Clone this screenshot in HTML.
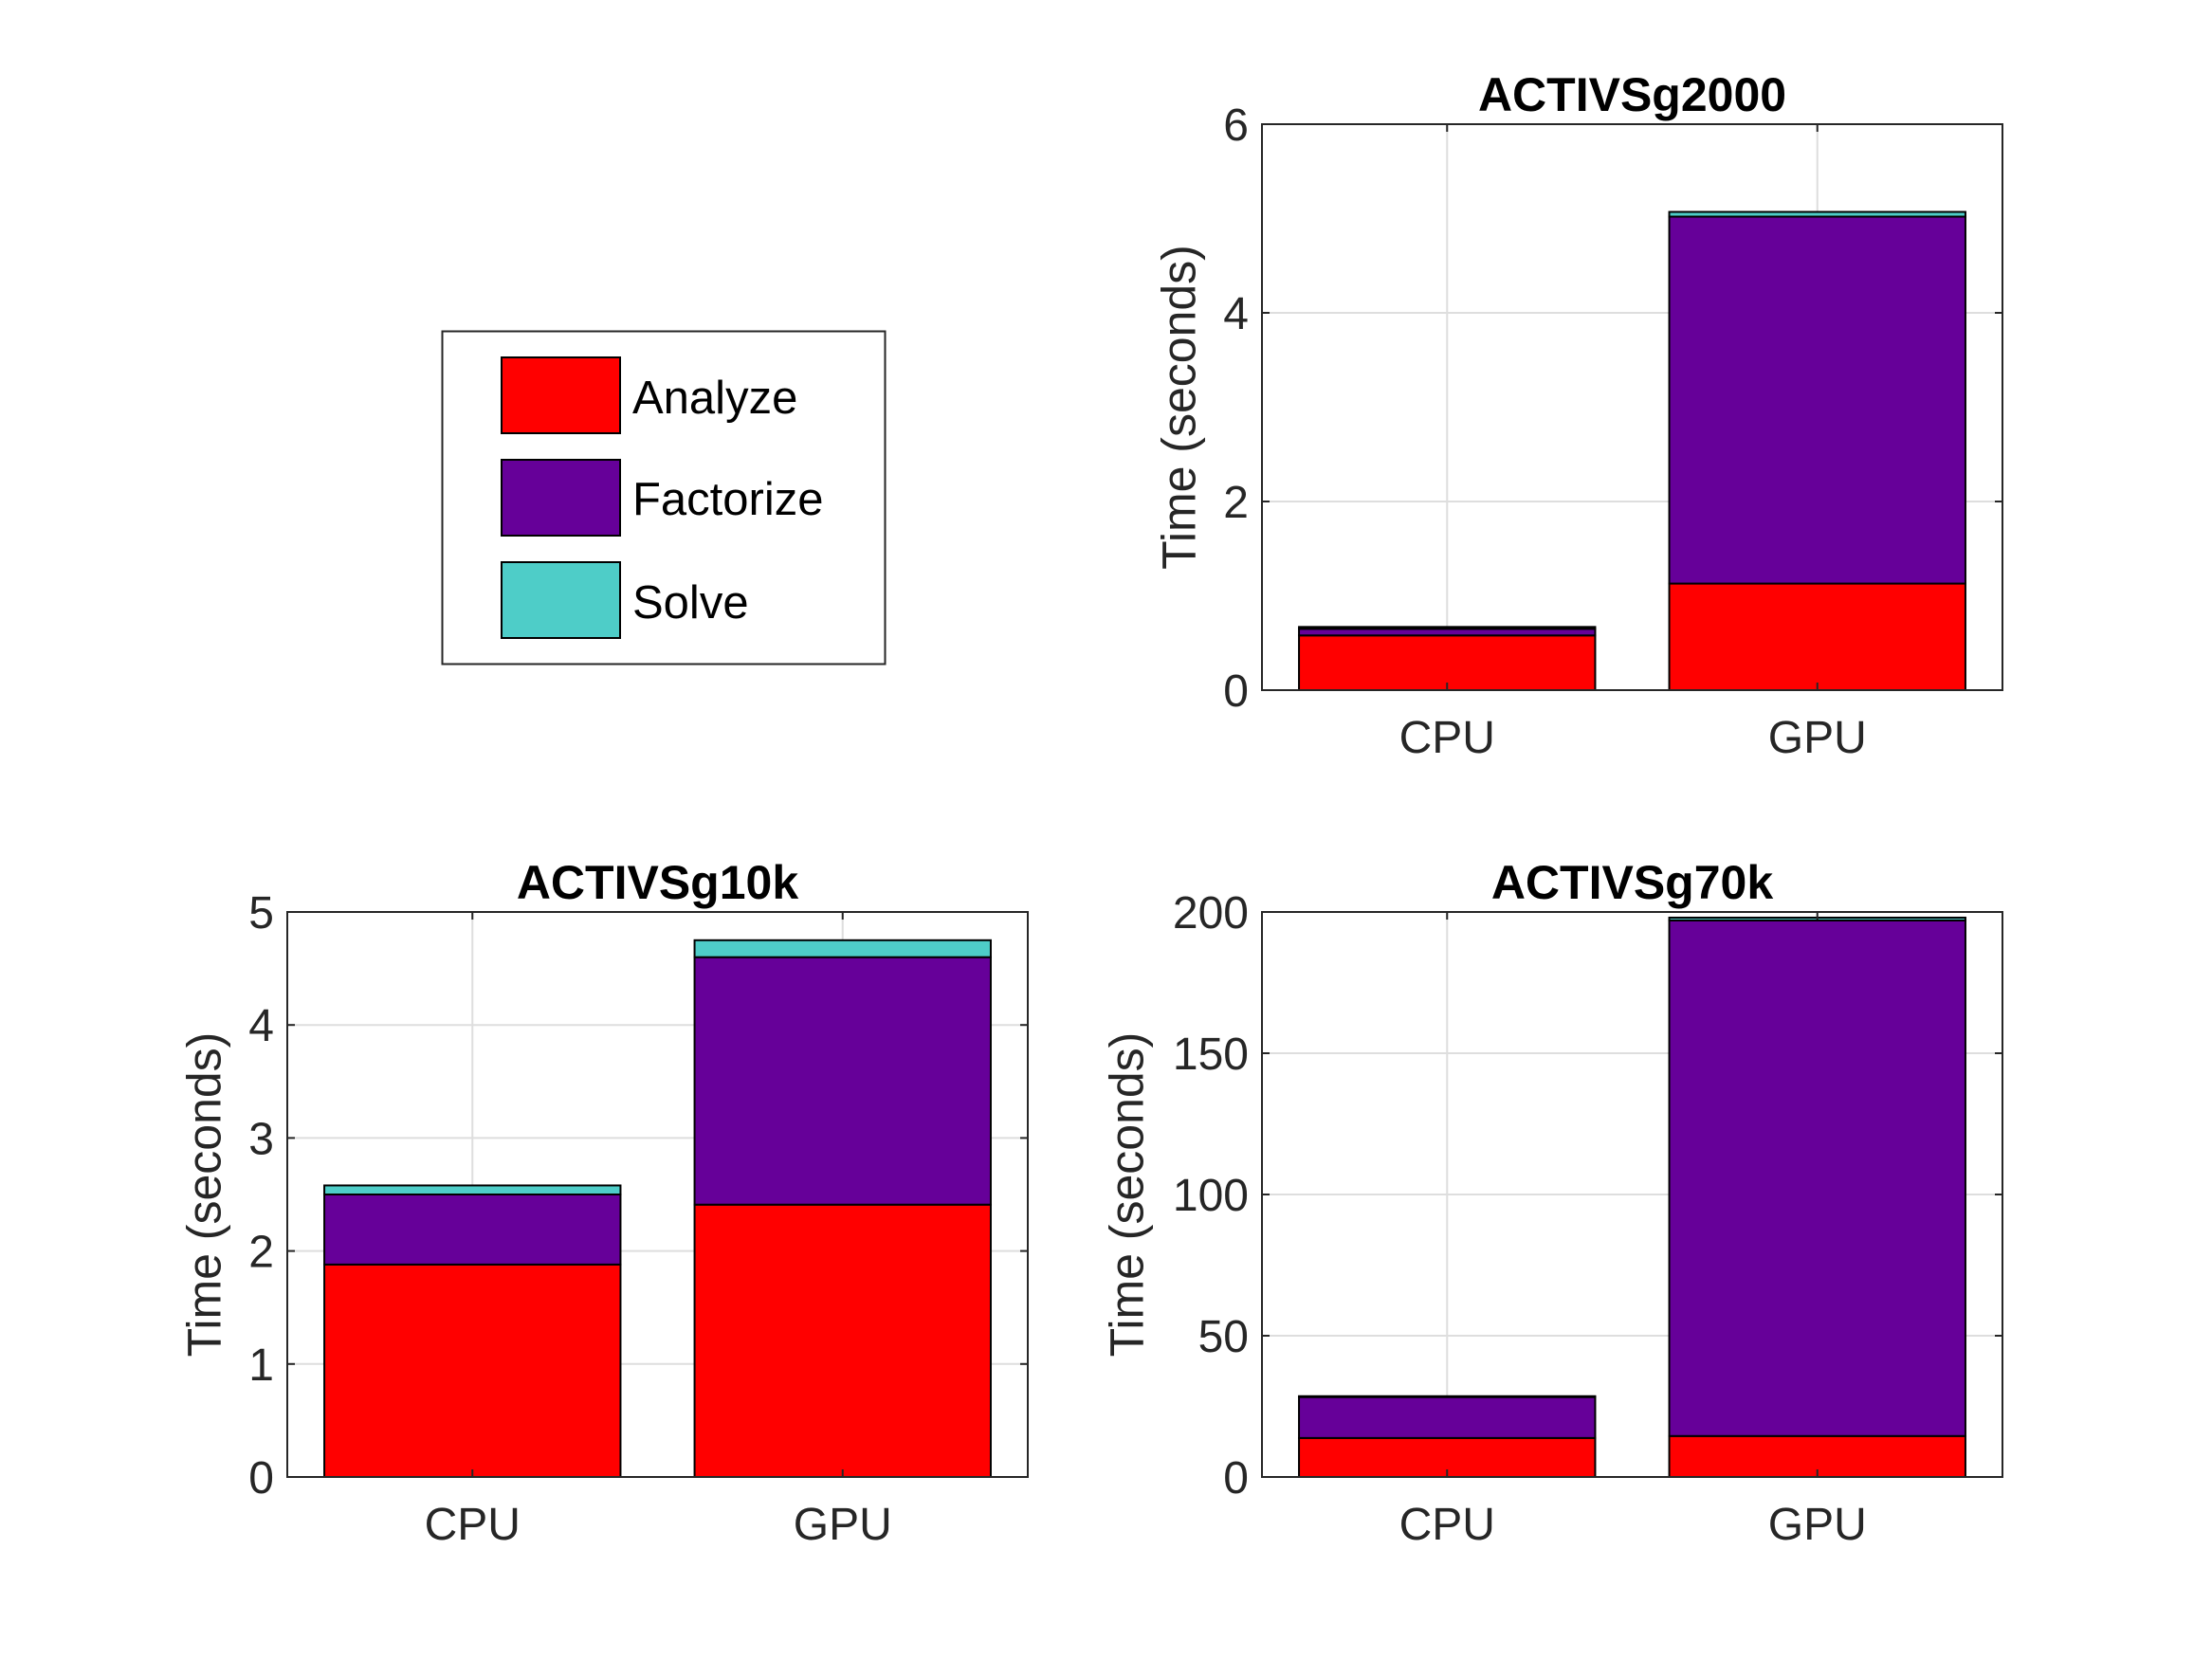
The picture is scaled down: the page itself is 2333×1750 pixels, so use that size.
<!DOCTYPE html>
<html><head><meta charset="utf-8"><style>
html,body{margin:0;padding:0;background:#fff;}
svg{display:block;}
text{font-family:"Liberation Sans",Helvetica,Arial,sans-serif;}
</style></head><body>
<svg id="fig" width="2333" height="1750" viewBox="0 0 2333 1750" xmlns="http://www.w3.org/2000/svg">
<rect width="2333" height="1750" fill="#fff"/>
<g id="legend">
<rect x="466.5" y="349.5" width="467" height="351" fill="#fff" stroke="#262626" stroke-width="2"/>
<g><rect x="529" y="377" width="125" height="80" fill="#ff0000" stroke="#000" stroke-width="2"/><text x="667" y="436" font-size="49" fill="#000">Analyze</text></g>
<g><rect x="529" y="485" width="125" height="80" fill="#660099" stroke="#000" stroke-width="2"/><text x="667" y="543" font-size="49" fill="#000">Factorize</text></g>
<g><rect x="529" y="593" width="125" height="80" fill="#4ecdc8" stroke="#000" stroke-width="2"/><text x="667" y="652" font-size="49" fill="#000">Solve</text></g>
</g>
</svg>
<script>
const categories = ["CPU", "GPU"];
const seriesNames = ["Analyze", "Factorize", "Solve"];
const g2000Analyze = [0.58, 1.13];
const g2000Factorize = [0.07, 3.89];
const g2000Solve = [0.02, 0.05];
const g2000Ticks = [0, 2, 4, 6];
const g10kAnalyze = [1.88, 2.41];
const g10kFactorize = [0.62, 2.19];
const g10kSolve = [0.08, 0.15];
const g10kTicks = [0, 1, 2, 3, 4, 5];
const g70kAnalyze = [13.8, 14.5];
const g70kFactorize = [14.5, 182.5];
const g70kSolve = [0.3, 1.0];
const g70kTicks = [0, 50, 100, 150, 200];

const colors = ["#ff0000", "#660099", "#4ecdc8"];
const NS = "http://www.w3.org/2000/svg";
const svg = document.getElementById('fig');
function mk(tag, attrs, parent) {
  const e = document.createElementNS(NS, tag);
  for (const k in attrs) e.setAttribute(k, attrs[k]);
  parent.appendChild(e);
  return e;
}
function drawPanel(key, title, left, top, w, h, series, ticks) {
  const g = mk('g', {}, svg);
  
  
  const ymax = ticks[ticks.length - 1];
  const y = v => top + h - v / ymax * h;
  const x = v => left + (v - 0.5) / 2 * w;
  ticks.forEach(t => {
    const gl = mk('line', {x1: left, x2: left + w, y1: y(t), y2: y(t), stroke: '#dedede', 'stroke-width': 2}, g);
    
    
  });
  categories.forEach((c, i) => {
    const gl = mk('line', {x1: x(i + 1), x2: x(i + 1), y1: top, y2: top + h, stroke: '#dedede', 'stroke-width': 2}, g);
    
    
  });
  categories.forEach((c, i) => {
    let base = 0;
    series.forEach((s, k) => {
      const v = s[i];
      const r = mk('rect', {x: x(i + 1 - 0.4), y: y(base + v), width: x(i + 1.4) - x(i + 0.6), height: y(base) - y(base + v), fill: colors[k], stroke: '#000', 'stroke-width': 2}, g);
      
      
      base += v;
    });
  });
  const box = mk('rect', {x: left, y: top, width: w, height: h, fill: 'none', stroke: '#262626', 'stroke-width': 2}, g);
  
  
  let maxDigits = 1;
  ticks.forEach(t => {
    maxDigits = Math.max(maxDigits, String(t).length);
    mk('line', {x1: left, x2: left + 8, y1: y(t), y2: y(t), stroke: '#262626', 'stroke-width': 2}, g);
    mk('line', {x1: left + w - 8, x2: left + w, y1: y(t), y2: y(t), stroke: '#262626', 'stroke-width': 2}, g);
    const tl = mk('text', {x: left - 14, y: y(t) + 17, 'font-size': 48, fill: '#262626', 'text-anchor': 'end'}, g);
    tl.textContent = t;
    
    
  });
  categories.forEach((c, i) => {
    mk('line', {x1: x(i + 1), x2: x(i + 1), y1: top + h - 8, y2: top + h, stroke: '#262626', 'stroke-width': 2}, g);
    mk('line', {x1: x(i + 1), x2: x(i + 1), y1: top, y2: top + 8, stroke: '#262626', 'stroke-width': 2}, g);
    const tl = mk('text', {x: x(i + 1), y: top + h + 66, 'font-size': 48, fill: '#262626', 'text-anchor': 'middle'}, g);
    tl.textContent = c;
    
    
  });
  const cy = top + h / 2;
  const off = 43 + 27.5 * maxDigits;
  const yl = mk('text', {x: 0, y: 0, 'font-size': 50, fill: '#262626', 'text-anchor': 'middle', transform: `translate(${left - off},${cy}) rotate(-90)`}, g);
  yl.textContent = 'Time (seconds)';
  
  
  const tt = mk('text', {x: left + w / 2, y: top - 14, 'font-size': 50, 'font-weight': 'bold', fill: '#000', 'text-anchor': 'middle'}, g);
  tt.textContent = title;
  
  
}
drawPanel('activsg2000', 'ACTIVSg2000', 1331, 131, 781, 597, [g2000Analyze, g2000Factorize, g2000Solve], g2000Ticks);
drawPanel('activsg10k', 'ACTIVSg10k', 303, 962, 781, 596, [g10kAnalyze, g10kFactorize, g10kSolve], g10kTicks);
drawPanel('activsg70k', 'ACTIVSg70k', 1331, 962, 781, 596, [g70kAnalyze, g70kFactorize, g70kSolve], g70kTicks);
</script>
</body></html>
